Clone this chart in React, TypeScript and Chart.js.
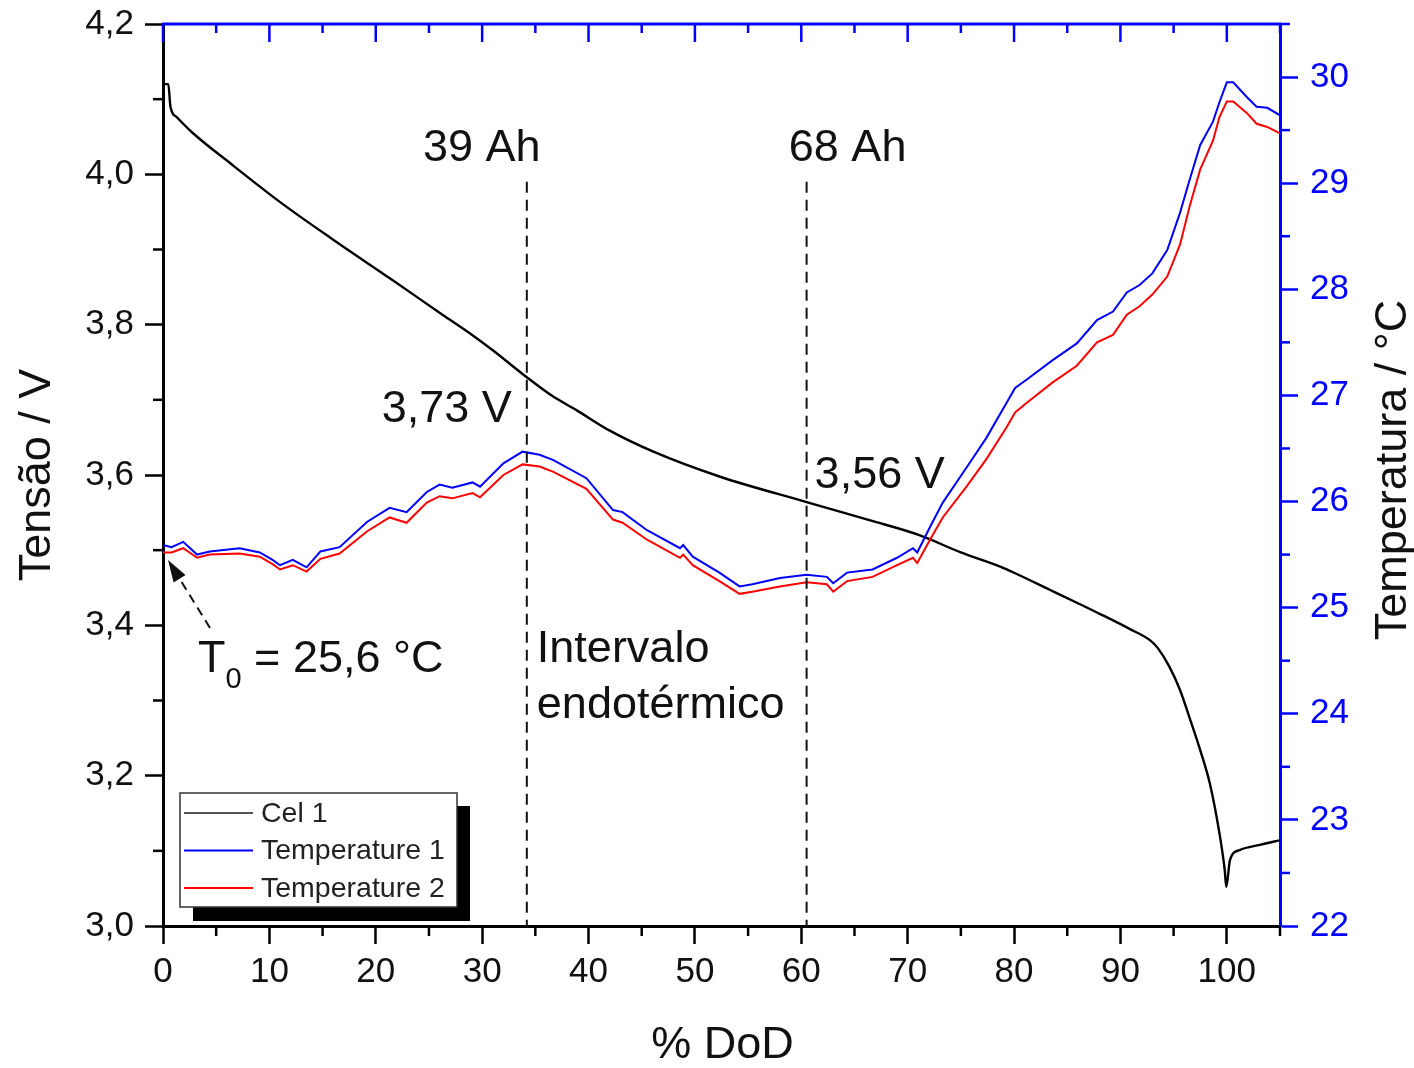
import React, { useEffect, useRef } from 'react';
import { Chart, registerables } from 'chart.js';

Chart.register(...registerables);

const FONT = '"Liberation Sans", Arial, Helvetica, sans-serif';
const BLUE = '#0000ff';
const RED = '#ff0000';
const BLACK = '#000000';

// ---- data ----
const dodVoltage = [0, 0.5, 0.7, 1.3, 2.8, 6.3, 11.3, 16.0, 21.6, 26.3, 28.8, 31.0, 34.2, 36.5, 38.9, 42.0, 46.1, 52.3, 60.5, 66.4, 71.1, 75.0, 78.7, 80.0, 83.4, 86.2, 88.1, 90.9, 92.8, 93.5, 94.6, 95.6, 96.5, 97.5, 98.4, 99.3, 99.8, 99.95, 100.3, 101.2, 103.1, 105];
const voltage = [4.12, 4.12, 4.09, 4.076, 4.055, 4.015, 3.960, 3.913, 3.859, 3.813, 3.789, 3.766, 3.730, 3.706, 3.686, 3.659, 3.631, 3.598, 3.564, 3.540, 3.520, 3.497, 3.478, 3.470, 3.447, 3.428, 3.415, 3.395, 3.380, 3.370, 3.345, 3.314, 3.277, 3.234, 3.190, 3.124, 3.075, 3.052, 3.088, 3.101, 3.108, 3.114];

const dodTemp = [0, 0.8, 1.9, 3.2, 4.4, 7.2, 9.1, 10.3, 11.0, 12.2, 13.5, 14.8, 16.6, 19.2, 21.3, 22.9, 24.8, 26.0, 27.2, 29.1, 29.8, 32.0, 33.8, 35.4, 36.7, 39.8, 42.3, 43.2, 45.5, 48.6, 48.9, 49.8, 52.3, 54.2, 55.4, 58.0, 60.5, 62.4, 63.0, 64.3, 66.7, 69.0, 70.5, 70.9, 72.1, 73.3, 75.6, 77.4, 79.3, 80.1, 81.2, 83.6, 85.9, 87.8, 89.3, 90.6, 91.8, 93.0, 94.4, 95.6, 96.5, 97.5, 98.7, 99.3, 100.0, 100.6, 101.9, 102.8, 103.8, 105];
const temperature1 = [25.59, 25.57, 25.62, 25.50, 25.53, 25.56, 25.52, 25.45, 25.40, 25.45, 25.38, 25.53, 25.57, 25.81, 25.94, 25.90, 26.09, 26.16, 26.13, 26.18, 26.14, 26.36, 26.47, 26.44, 26.39, 26.22, 25.92, 25.90, 25.73, 25.56, 25.59, 25.48, 25.33, 25.20, 25.22, 25.28, 25.31, 25.29, 25.23, 25.33, 25.36, 25.47, 25.56, 25.52, 25.76, 25.99, 26.33, 26.60, 26.93, 27.07, 27.15, 27.33, 27.49, 27.71, 27.79, 27.97, 28.04, 28.15, 28.37, 28.72, 29.03, 29.36, 29.58, 29.76, 29.95, 29.95, 29.81, 29.72, 29.71, 29.64];
const temperature2 = [25.52, 25.52, 25.56, 25.47, 25.50, 25.51, 25.48, 25.41, 25.36, 25.40, 25.34, 25.46, 25.51, 25.72, 25.85, 25.80, 25.99, 26.05, 26.03, 26.08, 26.04, 26.25, 26.35, 26.33, 26.28, 26.12, 25.83, 25.80, 25.64, 25.47, 25.50, 25.40, 25.25, 25.13, 25.15, 25.20, 25.24, 25.22, 25.15, 25.25, 25.29, 25.40, 25.47, 25.42, 25.64, 25.85, 26.15, 26.40, 26.70, 26.84, 26.93, 27.12, 27.28, 27.50, 27.57, 27.76, 27.84, 27.95, 28.12, 28.42, 28.78, 29.13, 29.40, 29.62, 29.77, 29.77, 29.66, 29.56, 29.53, 29.47];

const seriesLabels = ['Cel 1', 'Temperature 1', 'Temperature 2'];
const seriesColors = [BLACK, BLUE, RED];

const dodMajorTicks = [0, 10, 20, 30, 40, 50, 60, 70, 80, 90, 100];
const dodMinorTicks = [5, 15, 25, 35, 45, 55, 65, 75, 85, 95, 105];
const voltMinorTicks = [3.1, 3.3, 3.5, 3.7, 3.9, 4.1];
const tempMinorTicks = [22.5, 23.5, 24.5, 25.5, 26.5, 27.5, 28.5, 29.5, 30.5];

const markerDoD = [34.2, 60.5];
const markerAh = ['39 Ah', '68 Ah'];
const markerAhShift = [-45, 41];
const markerVolt = ['3,73 V', '3,56 V'];
const markerTopVolt = 3.99;

const TICK_FONT = 35;

const decorPlugin = {
  id: 'decor',
  afterDraw(chart: any) {
    const { ctx, chartArea: ca, scales } = chart;
    const x = scales.x, y = scales.y, y1 = scales.y1;
    const line = (x0: number, y0: number, x2: number, y2: number) => {
      ctx.beginPath(); ctx.moveTo(x0, y0); ctx.lineTo(x2, y2); ctx.stroke();
    };
    ctx.save();
    ctx.lineCap = 'butt';
    // minor ticks
    ctx.strokeStyle = BLACK; ctx.lineWidth = 2.5;
    for (const v of voltMinorTicks) { const p = y.getPixelForValue(v); line(ca.left - 10, p, ca.left, p); }
    for (const v of dodMinorTicks) { const p = x.getPixelForValue(v); line(p, ca.bottom, p, ca.bottom + 10); }
    ctx.strokeStyle = BLUE;
    for (const v of tempMinorTicks) { const p = y1.getPixelForValue(v); line(ca.right, p, ca.right + 10, p); }
    // top border with inward ticks
    ctx.lineWidth = 3;
    line(ca.left - 1, ca.top, ca.right + 1, ca.top);
    ctx.lineWidth = 2.5;
    for (const v of dodMajorTicks) { const p = x.getPixelForValue(v); line(p, ca.top, p, ca.top + 18); }
    for (const v of dodMinorTicks) { const p = x.getPixelForValue(v); line(p, ca.top, p, ca.top + 9); }

    // dashed markers
    ctx.strokeStyle = '#111'; ctx.lineWidth = 2; ctx.setLineDash([11, 7]);
    for (const d of markerDoD) {
      const p = x.getPixelForValue(d);
      line(p, y.getPixelForValue(markerTopVolt), p, ca.bottom);
    }
    ctx.setLineDash([]);

    // texts
    ctx.fillStyle = '#111';
    ctx.textBaseline = 'alphabetic';
    ctx.font = `45px ${FONT}`;
    ctx.textAlign = 'center';
    markerDoD.forEach((d, i) => {
      ctx.fillText(markerAh[i], x.getPixelForValue(d) + markerAhShift[i], 161);
    });
    ctx.textAlign = 'right';
    ctx.fillText(markerVolt[0], x.getPixelForValue(markerDoD[0]) - 15, 422);
    ctx.textAlign = 'left';
    ctx.fillText(markerVolt[1], x.getPixelForValue(markerDoD[1]) + 8, 488);
    ctx.fillText('Intervalo', x.getPixelForValue(markerDoD[0]) + 10, 662);
    ctx.fillText('endotérmico', x.getPixelForValue(markerDoD[0]) + 10, 718);

    // T0 annotation
    let tx = 198;
    ctx.fillText('T', tx, 672);
    tx += ctx.measureText('T').width;
    ctx.font = `29px ${FONT}`;
    ctx.fillText('0', tx, 688);
    tx += ctx.measureText('0').width;
    ctx.font = `45px ${FONT}`;
    ctx.fillText(' = 25,6 °C', tx, 672);

    // arrow
    const tipX = 168, tipY = 560, tailX = 210, tailY = 628;
    const ang = Math.atan2(tipY - tailY, tipX - tailX);
    const hl = 22, hw = 7;
    const bx = tipX - hl * Math.cos(ang), by = tipY - hl * Math.sin(ang);
    ctx.strokeStyle = '#111'; ctx.lineWidth = 2; ctx.setLineDash([9, 6]);
    line(tailX, tailY, bx, by);
    ctx.setLineDash([]);
    ctx.beginPath();
    ctx.moveTo(tipX, tipY);
    ctx.lineTo(bx + hw * Math.sin(ang), by - hw * Math.cos(ang));
    ctx.lineTo(bx - hw * Math.sin(ang), by + hw * Math.cos(ang));
    ctx.closePath(); ctx.fill();

    // axis titles
    ctx.font = `45px ${FONT}`;
    ctx.textAlign = 'center';
    ctx.fillText('% DoD', (ca.left + ca.right) / 2 + 1, 1058);
    ctx.save();
    ctx.translate(50, 475); ctx.rotate(-Math.PI / 2);
    ctx.fillText('Tensão / V', 0, 0);
    ctx.restore();
    ctx.save();
    ctx.translate(1406, 470); ctx.rotate(-Math.PI / 2);
    ctx.fillText('Temperatura / °C', 0, 0);
    ctx.restore();

    // legend with shadow
    const lx = ca.left + 17, ly = ca.bottom - 133, lw = 277, lh = 114;
    ctx.fillStyle = BLACK;
    ctx.fillRect(lx + 13, ly + 13, lw, lh + 1);
    ctx.fillStyle = '#fff';
    ctx.fillRect(lx, ly, lw, lh);
    ctx.strokeStyle = '#333'; ctx.lineWidth = 1.5;
    ctx.strokeRect(lx, ly, lw, lh);
    ctx.font = `28.5px ${FONT}`;
    ctx.textAlign = 'left'; ctx.textBaseline = 'middle';
    seriesLabels.forEach((lab, i) => {
      const cy = ly + 20 + i * 37.5;
      ctx.strokeStyle = i === 0 ? '#555' : seriesColors[i];
      ctx.lineWidth = 2;
      line(lx + 4, cy, lx + 73, cy);
      ctx.fillStyle = '#222';
      ctx.fillText(lab, lx + 81, cy + 1);
    });
    ctx.restore();
  },
};

export default function App() {
  const ref = useRef<HTMLCanvasElement>(null);
  useEffect(() => {
    document.body.style.margin = '0';
    const canvas = ref.current!;
    const chart = new Chart(canvas, {
      type: 'line',
      data: {
        datasets: [
          {
            label: seriesLabels[0],
            data: dodVoltage.map((d, i) => ({ x: d, y: voltage[i] })),
            borderColor: seriesColors[0], borderWidth: 2.4, pointRadius: 0, yAxisID: 'y', order: 3,
            cubicInterpolationMode: 'monotone',
          },
          {
            label: seriesLabels[1],
            data: dodTemp.map((d, i) => ({ x: d, y: temperature1[i] })),
            borderColor: seriesColors[1], borderWidth: 2, pointRadius: 0, yAxisID: 'y1', order: 2,
          },
          {
            label: seriesLabels[2],
            data: dodTemp.map((d, i) => ({ x: d, y: temperature2[i] })),
            borderColor: seriesColors[2], borderWidth: 2, pointRadius: 0, yAxisID: 'y1', order: 1,
          },
        ] as any,
      },
      options: {
        responsive: false,
        animation: false,
        devicePixelRatio: 1,
        layout: { padding: { top: 24, left: 0, right: 0, bottom: 0 } },
        plugins: { legend: { display: false }, tooltip: { enabled: false } },
        scales: {
          x: {
            type: 'linear', min: 0, max: 105, position: 'bottom',
            afterFit: (s: any) => { s.height = 142; s.paddingLeft = 0; s.paddingRight = 0; },
            ticks: { stepSize: 10, includeBounds: false, autoSkip: false, maxRotation: 0, padding: 7, color: '#111', font: { family: FONT, size: TICK_FONT } },
            grid: { drawOnChartArea: false, drawTicks: true, tickLength: 18, tickWidth: 2.5, tickColor: BLACK },
            border: { color: BLACK, width: 3 },
          },
          y: {
            type: 'linear', min: 3.0, max: 4.2, position: 'left',
            afterFit: (s: any) => { s.width = 163; s.paddingTop = 0; s.paddingBottom = 0; },
            ticks: { stepSize: 0.2, autoSkip: false, padding: 11, color: '#111', font: { family: FONT, size: TICK_FONT },
              callback: (v: any) => Number(v).toFixed(1).replace('.', ',') },
            grid: { drawOnChartArea: false, drawTicks: true, tickLength: 18, tickWidth: 2.5, tickColor: BLACK },
            border: { color: BLACK, width: 3 },
          },
          y1: {
            type: 'linear', min: 22, max: 30.5, position: 'right',
            afterFit: (s: any) => { s.width = 134; s.paddingTop = 0; s.paddingBottom = 0; },
            ticks: { stepSize: 1, includeBounds: false, autoSkip: false, padding: 12, color: BLUE, font: { family: FONT, size: TICK_FONT },
              callback: (v: any) => String(v) },
            grid: { drawOnChartArea: false, drawTicks: true, tickLength: 18, tickWidth: 2.5, tickColor: BLUE },
            border: { color: BLUE, width: 3 },
          },
        },
      } as any,
      plugins: [decorPlugin],
    });
    return () => chart.destroy();
  }, []);
  return <canvas ref={ref} width={1414} height={1068} style={{ display: 'block', width: 1414, height: 1068 }} />;
}
